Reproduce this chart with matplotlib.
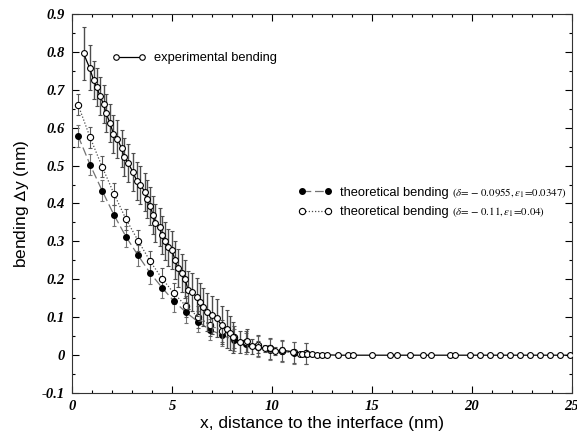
import matplotlib.pyplot as plt
from matplotlib.ticker import MultipleLocator, FormatStrFormatter
from matplotlib.lines import Line2D

plt.rcParams['mathtext.fontset'] = 'stix'

# experimental bending (nm)
exp_x = [0.57, 0.87, 1.07, 1.23, 1.40, 1.57, 1.70, 1.90, 2.07, 2.27, 2.48, 2.60, 2.80,
         3.03, 3.23, 3.40, 3.65, 3.77, 3.90, 4.05, 4.15, 4.40, 4.48, 4.65, 4.80, 4.98,
         5.15, 5.30, 5.50, 5.65, 5.80, 5.98, 6.23, 6.40, 6.57, 6.73, 6.98, 7.23, 7.48,
         7.73, 7.90, 8.07, 8.40, 8.73, 8.98, 9.32, 9.65, 9.90, 10.15, 10.48, 11.07, 11.40,
         11.48, 11.73, 11.98, 12.23, 12.48, 12.73, 13.30, 13.80, 14.07, 14.98, 15.90,
         16.23, 16.90, 17.57, 17.98, 18.90, 19.15, 19.90, 20.40, 20.90, 21.40, 21.90,
         22.40, 22.90, 23.40, 23.90, 24.40, 24.90]
exp_y = [0.796, 0.758, 0.726, 0.706, 0.683, 0.662, 0.638, 0.611, 0.583, 0.569, 0.545, 0.523, 0.507,
         0.484, 0.460, 0.449, 0.431, 0.411, 0.393, 0.370, 0.349, 0.337, 0.317, 0.302, 0.284, 0.277,
         0.252, 0.229, 0.216, 0.202, 0.171, 0.167, 0.154, 0.140, 0.127, 0.114, 0.106, 0.097, 0.079,
         0.070, 0.058, 0.047, 0.035, 0.038, 0.024, 0.022, 0.018, 0.018, 0.011, 0.013, 0.009, 0.004,
         0.003, 0.002, 0.002, 0.001, 0.001, 0.001, 0.0, 0.0, 0.0, 0.0, 0.0,
         0.0, 0.0, 0.0, 0.0, 0.0, 0.0, 0.0, 0.0, 0.0, 0.0, 0.0,
         0.0, 0.0, 0.0, 0.0, 0.0, 0.0]
exp_err = [0.07, 0.06, 0.05, 0.05, 0.05, 0.05, 0.05, 0.05, 0.05, 0.05, 0.05, 0.05, 0.05,
           0.05, 0.05, 0.05, 0.05, 0.05, 0.05, 0.05, 0.05, 0.05, 0.05, 0.05, 0.05, 0.05,
           0.05, 0.05, 0.05, 0.05, 0.05, 0.05, 0.05, 0.05, 0.05, 0.05, 0.05, 0.05, 0.05,
           0.05, 0.045, 0.04, 0.03, 0.03, 0.02, 0.015, 0.01, 0.01, 0.01, 0.008, 0.005, 0.004,
           0.003, 0.003, 0.003, 0.002, 0.002, 0.002, 0.0, 0.0, 0.0, 0.0, 0.0,
           0.0, 0.0, 0.0, 0.0, 0.0, 0.0, 0.0, 0.0, 0.0, 0.0, 0.0,
           0.0, 0.0, 0.0, 0.0, 0.0, 0.0]

# theoretical curves
th_x = [0.3, 0.9, 1.5, 2.1, 2.7, 3.3, 3.9, 4.5, 5.1, 5.7, 6.3, 6.9, 7.5, 8.1, 8.7,
        9.3, 9.9, 10.5, 11.1, 11.7]
th1_y = [0.578, 0.502, 0.434, 0.369, 0.312, 0.263, 0.217, 0.178, 0.142, 0.113, 0.088,
         0.067, 0.053, 0.040, 0.030, 0.022, 0.015, 0.010, 0.006, 0.004]
th2_y = [0.660, 0.574, 0.497, 0.425, 0.358, 0.302, 0.248, 0.202, 0.163, 0.129, 0.101,
         0.079, 0.064, 0.048, 0.036, 0.026, 0.018, 0.012, 0.008, 0.005]
th_err = 0.028

params = [r'$(\delta\!=\!-\,0.0955,\epsilon_1\!=\!0.0347)$',
          r'$(\delta\!=\!-\,0.11,\epsilon_1\!=\!0.04)$']

fig = plt.figure(figsize=(5.77, 4.32), dpi=100)
ax = fig.add_axes([0.125, 0.090, 0.866, 0.878])

# theory 1: filled circles, dashed grey
ax.errorbar(th_x, th1_y, yerr=th_err, fmt='o', ms=4, color='black', mfc='black',
            ecolor='0.45', elinewidth=0.8, capsize=1.5, capthick=0.8, zorder=3)
ax.plot(th_x, th1_y, ls=(0, (7, 3)), color='0.45', lw=0.9, zorder=2)
# theory 2: open circles, dotted
ax.errorbar(th_x, th2_y, yerr=th_err, fmt='o', ms=4.5, color='black', mfc='white',
            mew=0.8, ecolor='0.35', elinewidth=0.8, capsize=1.5, capthick=0.8, zorder=3)
ax.plot(th_x, th2_y, ls=(0, (1, 1.5)), color='0.3', lw=0.9, zorder=2)
# experiment
ax.errorbar(exp_x, exp_y, yerr=exp_err, fmt='none', ecolor='0.3', elinewidth=1.0,
            capsize=1.5, capthick=0.8, zorder=4)
ax.plot(exp_x, exp_y, '-', marker='o', ms=4.2, color='black', mfc='white', mew=0.8,
        lw=0.9, zorder=5)

ax.set_xlim(0, 25)
ax.set_ylim(-0.1, 0.9)
ax.xaxis.set_major_locator(MultipleLocator(5))
ax.xaxis.set_minor_locator(MultipleLocator(1))
ax.yaxis.set_major_locator(MultipleLocator(0.1))
ax.yaxis.set_minor_locator(MultipleLocator(0.05))
ax.yaxis.set_major_formatter(FormatStrFormatter('%g'))
ax.tick_params(which='both', direction='in', top=True, right=True, width=0.8)
ax.tick_params(which='major', length=5, pad=5)
ax.tick_params(which='minor', length=2.5)
for lab in ax.get_xticklabels() + ax.get_yticklabels():
    lab.set_family('Liberation Serif')
    lab.set_weight('bold')
    lab.set_style('italic')
    lab.set_fontsize(10.5)
for sp in ax.spines.values():
    sp.set_linewidth(0.8)
    sp.set_color('0.2')

ax.set_xlabel('x, distance to the interface (nm)', family='Liberation Sans',
              fontsize=12.5, labelpad=2)
ax.set_ylabel('bending $\\mathsf{\\Delta}$y (nm)', family='Liberation Sans',
              fontsize=12.5, labelpad=8)

# legends
h_exp = Line2D([], [], color='black', lw=0.9, marker='o', ms=4, mfc='white', mew=0.8)
h_t1 = Line2D([], [], color='0.45', ls=(0, (7, 3)), lw=0.9, marker='o', ms=4,
              mfc='black', mec='black')
h_t2 = Line2D([], [], color='0.3', ls=(0, (1, 1.5)), lw=0.9, marker='o', ms=4.5,
              mfc='white', mec='black', mew=0.8)
leg1 = ax.legend([h_exp], ['experimental bending'], loc='upper left',
                 bbox_to_anchor=(0.057, 0.93), frameon=False, numpoints=2,
                 handlelength=2.6, handletextpad=0.6,
                 prop={'family': 'Liberation Sans', 'size': 9.3})
ax.add_artist(leg1)
leg2 = ax.legend([h_t1, h_t2], ['theoretical bending', 'theoretical bending'],
                 loc='upper left', bbox_to_anchor=(0.43, 0.575), frameon=False,
                 numpoints=2, handlelength=2.6, handletextpad=0.6, labelspacing=0.6,
                 prop={'family': 'Liberation Sans', 'size': 9.3})

# parameter text right after each legend label
fig.canvas.draw()
rend = fig.canvas.get_renderer()
inv = ax.transAxes.inverted()
for txt, p in zip(leg2.get_texts(), params):
    bb = txt.get_window_extent(rend)
    x0, y0 = inv.transform((bb.x1 + 3, (bb.y0 + bb.y1) / 2))
    ax.text(x0, y0, p, transform=ax.transAxes, fontsize=7.8, va='center')

fig.savefig('out.png', dpi=100)
